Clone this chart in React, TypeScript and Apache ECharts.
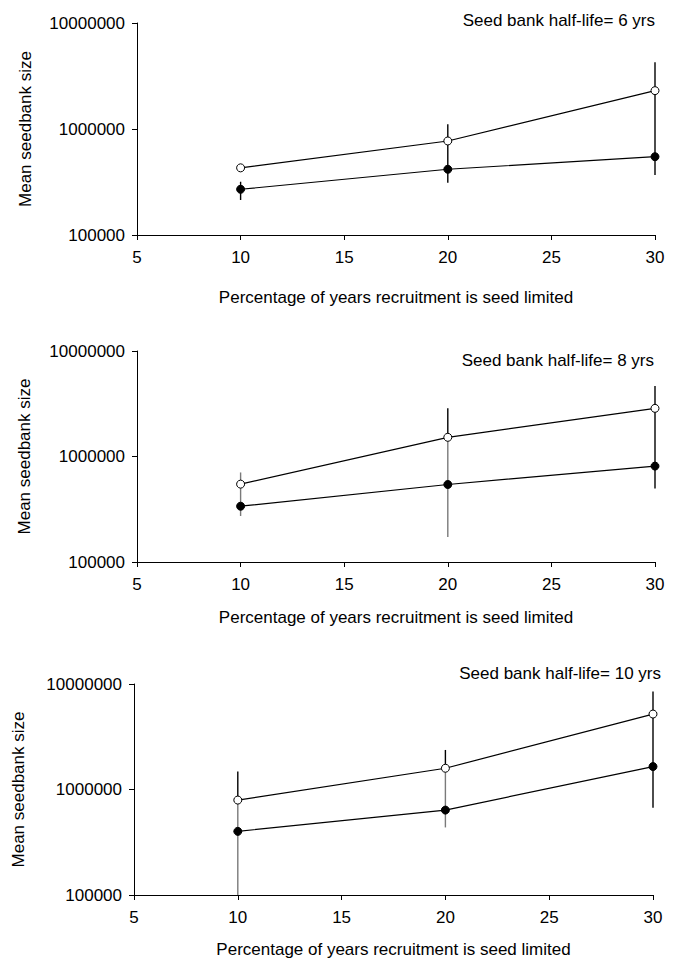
import React, { useEffect, useRef } from "react";
import * as echarts from "echarts";

const X_VALUES = [10, 20, 30];
const X_TICKS = [5, 10, 15, 20, 25, 30];
const Y_TICKS = [100000, 1000000, 10000000];
const PANEL_TITLES = [
  "Seed bank half-life= 6 yrs",
  "Seed bank half-life= 8 yrs",
  "Seed bank half-life= 10 yrs",
];
const Y_NAME = "Mean seedbank size";
const X_NAME = "Percentage of years recruitment is seed limited";

// Panel 1: half-life 6 yrs
const OPEN_6 = [430000, 771000, 2300000];
const FILLED_6 = [270000, 417000, 548000];
const BARS_6: [number, number, number, string][] = [
  [10, 214000, 318000, "dark"],
  [20, 311000, 1110000, "dark"],
  [30, 368000, 4260000, "dark"],
];

// Panel 2: half-life 8 yrs
const OPEN_8 = [547000, 1520000, 2860000];
const FILLED_8 = [338000, 543000, 811000];
const BARS_8: [number, number, number, string][] = [
  [10, 273000, 706000, "light"],
  [20, 1520000, 2860000, "dark"],
  [20, 173000, 1520000, "light"],
  [30, 498000, 4660000, "dark"],
];

// Panel 3: half-life 10 yrs
const OPEN_10 = [794000, 1590000, 5190000];
const FILLED_10 = [401000, 638000, 1650000];
const BARS_10: [number, number, number, string][] = [
  [10, 794000, 1480000, "dark"],
  [10, 100000, 794000, "light"],
  [20, 1590000, 2370000, "dark"],
  [20, 437000, 1590000, "light"],
  [30, 671000, 8500000, "dark"],
];

const PANELS = [
  { open: OPEN_6, filled: FILLED_6, bars: BARS_6 },
  { open: OPEN_8, filled: FILLED_8, bars: BARS_8 },
  { open: OPEN_10, filled: FILLED_10, bars: BARS_10 },
];

const FONT = "Liberation Sans, Arial, Helvetica, sans-serif";

const LAYOUT = [
  { left: 137, right: 20, top: 23, height: 212, xGap: 54, yGap: 103, titleX: 655, titleY: 20 },
  { left: 137, right: 20, top: 351, height: 211, xGap: 47, yGap: 104, titleX: 654, titleY: 360 },
  { left: 134, right: 22, top: 684, height: 211, xGap: 46, yGap: 107, titleX: 661, titleY: 673 },
];

export default function App() {
  const ref = useRef<HTMLDivElement>(null);

  useEffect(() => {
    if (!ref.current) return;
    const chart = echarts.init(ref.current, null, { renderer: "svg" });

    const axisLineStyle = { color: "#000", width: 1 };
    const grids: any[] = [];
    const xAxes: any[] = [];
    const yAxes: any[] = [];
    const series: any[] = [];
    const graphics: any[] = [];

    PANELS.forEach((p, i) => {
      const L = LAYOUT[i];
      grids.push({ left: L.left, right: L.right, top: L.top, height: L.height, containLabel: false });
      xAxes.push({
        type: "value",
        gridIndex: i,
        min: X_TICKS[0],
        max: X_TICKS[X_TICKS.length - 1],
        interval: 5,
        name: X_NAME,
        nameLocation: "middle",
        nameGap: L.xGap,
        nameTextStyle: { fontFamily: FONT, fontSize: 17, color: "#000" },
        axisLine: { onZero: false, lineStyle: axisLineStyle },
        axisTick: { show: true, length: 5, lineStyle: axisLineStyle },
        axisLabel: { fontFamily: FONT, fontSize: 17, color: "#000", margin: 14 },
        splitLine: { show: false },
      });
      yAxes.push({
        type: "log",
        logBase: 10,
        gridIndex: i,
        min: Y_TICKS[0],
        max: Y_TICKS[Y_TICKS.length - 1],
        name: Y_NAME,
        nameLocation: "middle",
        nameRotate: 90,
        nameGap: L.yGap,
        nameTextStyle: { fontFamily: FONT, fontSize: 17, color: "#000" },
        axisLine: { show: true, lineStyle: axisLineStyle },
        axisTick: { show: true, length: 5, lineStyle: axisLineStyle },
        axisLabel: {
          fontFamily: FONT,
          fontSize: 17,
          color: "#000",
          margin: 12,
          formatter: (v: number) => String(Math.round(v)),
        },
        splitLine: { show: false },
        minorTick: { show: false },
      });

      const bars = p.bars;
      series.push({
        type: "custom",
        xAxisIndex: i,
        yAxisIndex: i,
        z: 1,
        data: bars.map((b) => [b[0], b[1], b[2]]),
        encode: { x: 0, y: [1, 2] },
        renderItem: (params: any, api: any) => {
          const x = api.value(0);
          const lo = api.value(1);
          const hi = api.value(2);
          const p1 = api.coord([x, lo]);
          const p2 = api.coord([x, hi]);
          const shade = bars[params.dataIndex][3];
          return {
            type: "line",
            shape: { x1: p1[0], y1: p1[1], x2: p2[0], y2: p2[1] },
            style: { stroke: shade === "light" ? "#7a7a7a" : "#000", lineWidth: 1.4 },
          };
        },
      });
      series.push({
        type: "line",
        xAxisIndex: i,
        yAxisIndex: i,
        z: 3,
        data: X_VALUES.map((x, k) => [x, p.filled[k]]),
        symbol: "circle",
        symbolSize: 8,
        showAllSymbol: true,
        lineStyle: { color: "#000", width: 1.2 },
        itemStyle: { color: "#000", borderColor: "#000", borderWidth: 1 },
      });
      series.push({
        type: "line",
        xAxisIndex: i,
        yAxisIndex: i,
        z: 4,
        data: X_VALUES.map((x, k) => [x, p.open[k]]),
        symbol: "circle",
        symbolSize: 8,
        showAllSymbol: true,
        lineStyle: { color: "#000", width: 1.2 },
        itemStyle: { color: "#fff", borderColor: "#000", borderWidth: 1 },
      });

      graphics.push({
        type: "text",
        x: L.titleX,
        y: L.titleY,
        style: {
          text: PANEL_TITLES[i],
          font: `17px ${FONT}`,
          fill: "#000",
          textAlign: "right",
          textVerticalAlign: "middle",
        },
      });
    });

    chart.setOption({
      animation: false,
      backgroundColor: "#fff",
      grid: grids,
      xAxis: xAxes,
      yAxis: yAxes,
      series,
      graphic: graphics,
    });

    return () => chart.dispose();
  }, []);

  return (
    <div
      ref={ref}
      style={{ position: "absolute", left: 0, top: 0, width: 675, height: 959, background: "#fff" }}
    />
  );
}
